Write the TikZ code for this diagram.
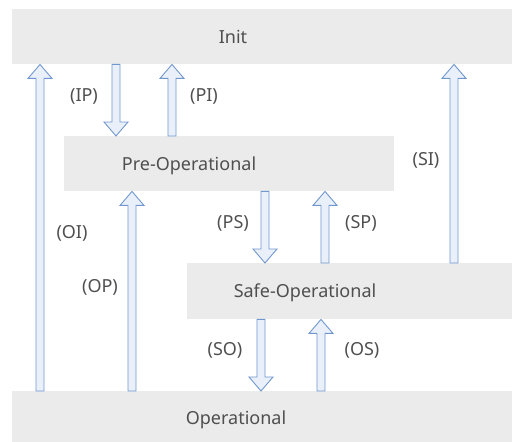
\documentclass[tikz,border=0pt]{standalone}
\usepackage{fontspec}
\setmainfont{Noto Sans}
\usetikzlibrary{calc}
\definecolor{boxfill}{HTML}{EBEBEB}
\definecolor{arrfill}{HTML}{EAF0F9}
\definecolor{arrline}{HTML}{7097D0}
\definecolor{txtcol}{HTML}{4F4F4F}
\tikzset{
  statebox/.style={draw=none, fill=boxfill, rectangle, anchor=north west, inner sep=0pt},
  statetext/.style={text=txtcol, font=\fontsize{18}{20}\selectfont, inner sep=0pt, anchor=base},
  lbl/.style={text=txtcol, font=\fontsize{18}{20}\selectfont, inner sep=0pt},
  barrow/.style={draw=arrline, fill=arrfill, line width=0.9pt, line join=miter},
}
% vertical block arrow, tip at #2
\newcommand\blkup[2]{%
  \draw[barrow] let \p1=#1, \p2=#2 in
    (\x1-4pt,\y1) -- (\x1-4pt,\y2-14pt) -- (\x1-12pt,\y2-14pt) -- (\x1,\y2)
    -- (\x1+12pt,\y2-14pt) -- (\x1+4pt,\y2-14pt) -- (\x1+4pt,\y1) -- cycle;}
\newcommand\blkdown[2]{%
  \draw[barrow] let \p1=#1, \p2=#2 in
    (\x1-4pt,\y1) -- (\x1-4pt,\y2+14pt) -- (\x1-12pt,\y2+14pt) -- (\x1,\y2)
    -- (\x1+12pt,\y2+14pt) -- (\x1+4pt,\y2+14pt) -- (\x1+4pt,\y1) -- cycle;}
\begin{document}
\begin{tikzpicture}[x=1pt,y=-1pt]
\useasboundingbox (0,0) rectangle (512,442);
% state boxes
\node[statebox, minimum width=500pt, minimum height=55pt] (init) at (12,9) {};
\node[statebox, minimum width=330pt, minimum height=55pt] (pre) at (64,136) {};
\node[statebox, minimum width=325pt, minimum height=56pt] (safe) at (187,263) {};
\node[statebox, minimum width=500pt, minimum height=51pt] (op) at (12,391) {};
\node[statetext] (tinit) at (233,43) {Init};
\node[statetext] (tpre) at (189,170) {Pre-Operational};
\node[statetext] (tsafe) at (305,297.5) {Safe-Operational};
\node[statetext] (top) at (236,424) {Operational};
% arrow end coordinates
\coordinate (xOI) at (40,0);
\coordinate (xIP) at (116,0);
\coordinate (xPI) at (172,0);
\coordinate (xSI) at (454,0);
\coordinate (xOP) at (132,0);
\coordinate (xPS) at (265,0);
\coordinate (xSP) at (325,0);
\coordinate (xSO) at (261,0);
\coordinate (xOS) at (321,0);
% arrows
\blkup{(xOI |- op.north)}{(xOI |- init.south)}
\blkdown{(xIP |- init.south)}{(xIP |- pre.north)}
\blkup{(xPI |- pre.north)}{(xPI |- init.south)}
\blkup{(xSI |- safe.north)}{(xSI |- init.south)}
\blkup{(xOP |- op.north)}{(xOP |- pre.south)}
\blkdown{(xPS |- pre.south)}{(xPS |- safe.north)}
\blkup{(xSP |- safe.north)}{(xSP |- pre.south)}
\blkdown{(xSO |- safe.south)}{(xSO |- op.north)}
\blkup{(xOS |- op.north)}{(xOS |- safe.south)}
% labels
\node[lbl] (lIP) at (84,96) {(IP)};
\node[lbl] (lPI) at (204,96) {(PI)};
\node[lbl] (lSI) at (426,160) {(SI)};
\node[lbl] (lOI) at (72,233) {(OI)};
\node[lbl] (lOP) at (100,287) {(OP)};
\node[lbl] (lPS) at (233,223) {(PS)};
\node[lbl] (lSP) at (361,223) {(SP)};
\node[lbl] (lSO) at (225,350) {(SO)};
\node[lbl] (lOS) at (362,350) {(OS)};
\end{tikzpicture}
\end{document}
